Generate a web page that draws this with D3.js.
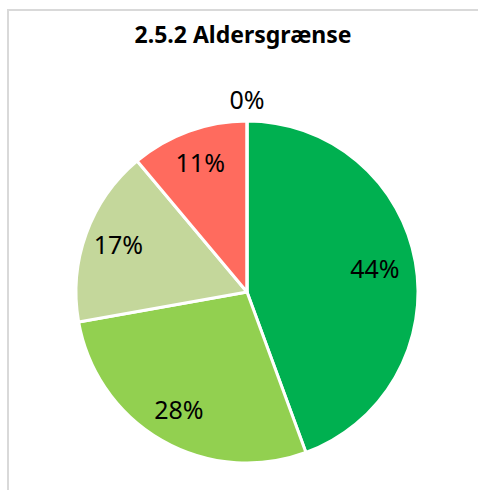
<!DOCTYPE html>
<html>
<head>
<meta charset="utf-8">
<script src="https://cdn.jsdelivr.net/npm/d3@7"></script>
<style>
  body { margin: 0; background: #fff; }
  svg { display: block; }
</style>
</head>
<body>
<div class="chart"></div>
<script>
// data
const title = '2.5.2 Aldersgrænse';
const categories = ['A', 'B', 'C', 'D', 'E'];
const values = [44.4, 27.8, 16.7, 11.1, 0];
const labels = ['44%', '28%', '17%', '11%', '0%'];
const colors = ['#00B050', '#92D050', '#C4D79B', '#FF6B5E', '#4472C4'];

const width = 478, height = 490;
const cx = 247, cy = 292, radius = 171;

const svg = d3.select('.chart')
  .append('svg')
  .attr('width', width)
  .attr('height', height);

// chart frame
svg.append('rect')
  .attr('x', 8)
  .attr('y', 10)
  .attr('width', width)
  .attr('height', height)
  .attr('fill', 'none')
  .attr('stroke', '#D9D9D9')
  .attr('stroke-width', 2);

svg.append('text')
  .attr('x', 243)
  .attr('y', 43)
  .attr('text-anchor', 'middle')
  .style('font-family', '"Noto Sans", sans-serif')
  .style('font-size', '23px')
  .style('font-weight', 'bold')
  .text(title);

const data = categories.map((c, i) => ({cat: c, value: values[i], label: labels[i], color: colors[i]}));

const pie = d3.pie()
  .value(d => d.value)
  .sort(null);

const arc = d3.arc()
  .innerRadius(0)
  .outerRadius(radius);

// 라벨 위치: 큰 조각은 조금 안쪽으로
const labelArc = d3.arc()
  .innerRadius(d => radius * (d.data.value > 40 ? 0.76 : 0.8))
  .outerRadius(d => radius * (d.data.value > 40 ? 0.76 : 0.8));

const outArc = d3.arc()
  .innerRadius(radius + 21)
  .outerRadius(radius + 21);

const g = svg.append('g')
  .attr('transform', `translate(${cx}, ${cy})`);

const arcs = pie(data);

g.selectAll('path')
  .data(arcs)
  .join('path')
  .attr('d', arc)
  .attr('fill', d => d.data.color)
  .attr('stroke', '#fff')
  .attr('stroke-width', 3)
  .attr('stroke-linejoin', 'round');

g.selectAll('text')
  .data(arcs)
  .join('text')
  .attr('transform', d => {
    const p = d.data.value === 0 ? outArc.centroid(d) : labelArc.centroid(d);
    return `translate(${p[0]}, ${p[1]})`;
  })
  .attr('text-anchor', 'middle')
  .attr('dy', '0.35em')
  .style('font-family', '"Noto Sans", sans-serif')
  .style('font-size', '25px')
  .attr('fill', '#000')
  .text(d => d.data.label);
</script>
</body>
</html>
